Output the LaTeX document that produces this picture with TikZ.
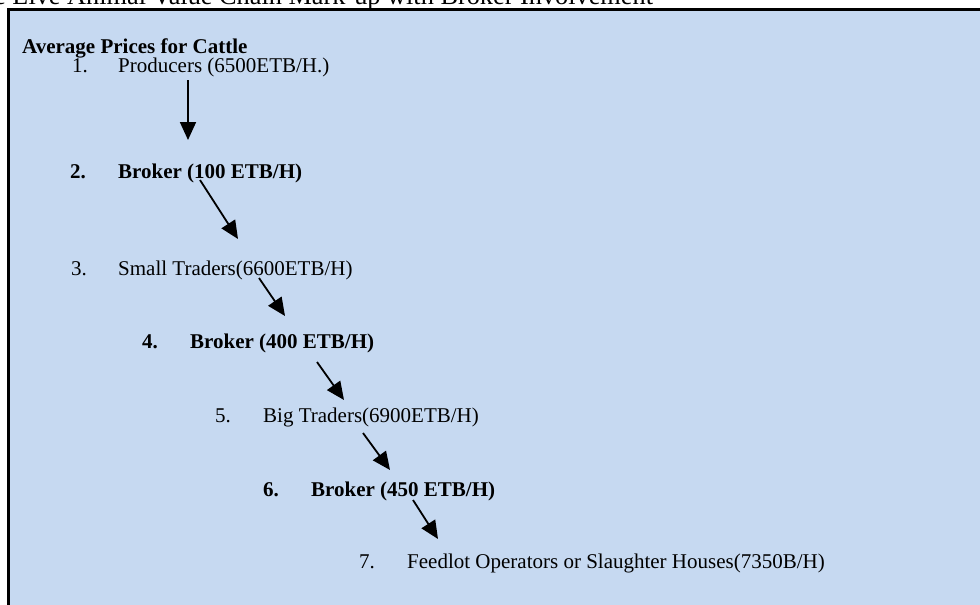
\documentclass[tikz,border=0pt]{standalone}
\usepackage{fontspec}
\setmainfont{Liberation Serif}
\usetikzlibrary{arrows.meta}
\definecolor{boxblue}{HTML}{C6D9F1}
\tikzset{
  txt/.style={anchor=base west, inner sep=0pt, font=\fontsize{21}{25}\selectfont},
  btxt/.style={txt, font=\fontsize{21}{25}\selectfont\bfseries},
  flow/.style={line width=1.8pt, -{Triangle[length=18pt,width=16pt]}}
}
\begin{document}
\begin{tikzpicture}[x=1pt,y=-1pt]
\useasboundingbox (0,0) rectangle (980,605);
\fill[white] (0,0) rectangle (980,605);
\begin{scope}
\clip (0,0) rectangle (980,9);
\node[txt, font=\fontsize{26.3}{30}\selectfont] (title) at (-6,4.5) {e Live Animal Value Chain Mark-up with Broker Involvement};
\end{scope}
\fill[boxblue] (8,9) rectangle (982,607);
\draw[line width=3pt] (8,607) -- (8,9) -- (982,9);

\node[btxt] (head) at (22,53) {Average Prices for Cattle};
\node[txt] (n1) at (72,72) {1.};
\node[txt] (t1) at (118,72) {Producers (6500ETB/H.)};
\node[btxt] (n2) at (70,178) {2.};
\node[btxt] (t2) at (118,178) {Broker (100 ETB/H)};
\node[txt] (n3) at (71,275) {3.};
\node[txt] (t3) at (118,275) {Small Traders(6600ETB/H)};
\node[btxt] (n4) at (142,348) {4.};
\node[btxt] (t4) at (190,348) {Broker (400 ETB/H)};
\node[txt] (n5) at (215,422) {5.};
\node[txt] (t5) at (263,422) {Big Traders(6900ETB/H)};
\node[btxt] (n6) at (263,496) {6.};
\node[btxt] (t6) at (311,496) {Broker (450 ETB/H)};
\node[txt] (n7) at (359,568) {7.};
\node[txt] (t7) at (407,568) {Feedlot Operators or Slaughter Houses(7350B/H)};

\coordinate (a1s) at (188,80);
\coordinate (a1e) at (188,140);
\coordinate (a2s) at (200,180);
\coordinate (a2e) at (238,239);
\coordinate (a3s) at (259,278);
\coordinate (a3e) at (285,316);
\coordinate (a4s) at (317,362);
\coordinate (a4e) at (344,400);
\coordinate (a5s) at (363,433);
\coordinate (a5e) at (390,470);
\coordinate (a6s) at (413,500);
\coordinate (a6e) at (438,539);
\draw[flow] (a1s) -- (a1e);
\draw[flow] (a2s) -- (a2e);
\draw[flow] (a3s) -- (a3e);
\draw[flow] (a4s) -- (a4e);
\draw[flow] (a5s) -- (a5e);
\draw[flow] (a6s) -- (a6e);
\end{tikzpicture}
\end{document}
